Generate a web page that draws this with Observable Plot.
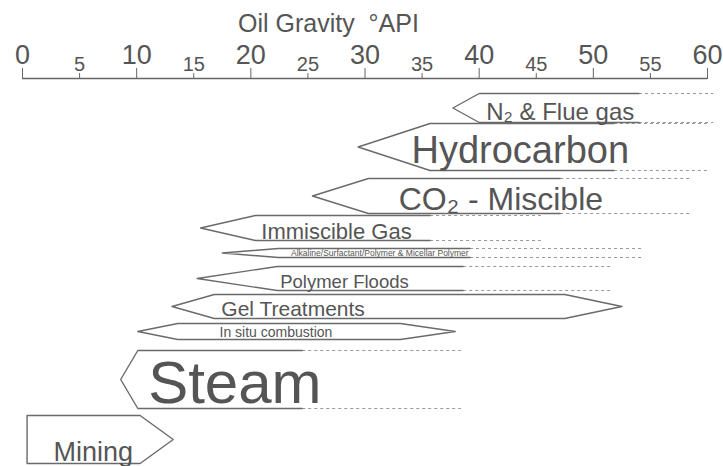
<!DOCTYPE html>
<html><head><meta charset="utf-8">
<script src="https://cdn.jsdelivr.net/npm/d3@7"></script>
<script src="https://cdn.jsdelivr.net/npm/@observablehq/plot@0.6"></script>
<style>html,body{margin:0;padding:0;background:#fff;}</style>
</head><body><div id="chart"></div>
<script>
// ---- data (oil gravity, °API) ----
const methods = ["N\u2082 & Flue gas", "Hydrocarbon", "CO\u2082 - Miscible", "Immiscible Gas",
  "Alkaline/Surfactant/Polymer & Micellar Polymer", "Polymer Floods", "Gel Treatments",
  "In situ combustion", "Steam", "Mining"];
const shapeKind = ["open", "open", "open", "open", "open", "open", "lens", "lens", "open", "right"];
const tipAPI   = [37.7, 29.4, 25.4, 15.6, 17.5, 15.3, 13.1, 10.1, 8.6, 13.2];
const fullAPI  = [40.0, 35.7, 30.3, 20.4, 22.4, 22.3, 16.8, 13.6, 10.1, 10.3];
const solidAPI = [54.0, 51.8, 47.1, 35.7, 39.2, 38.6, 47.5, 33.1, 24.5, 0.4];
const dashAPI  = [60.5, 60.2, 58.5, 45.4, 54.4, 51.5, null, null, 38.4, null];
const pointAPI = [null, null, null, null, null, null, 52.5, 37.9, null, null];
const majorTicks = [0, 10, 20, 30, 40, 50, 60];
const minorTicks = [5, 15, 25, 35, 45, 55];
const axisTitle = "Oil Gravity\u00a0\u00a0°API";

// ---- layout (vertical rows, label placement, sizes) ----
const rowTop    = [93, 123, 178, 215, 248, 266, 294, 323, 350, 415];
const rowBottom = [122, 170, 213, 240, 257, 290, 318, 339, 408, 463];
const labelX    = [47.1, 43.6, 41.9, 27.5, 31.3, 28.2, 23.7, 22.2, 18.6, 6.2];
const labelBase = [119, 162, 209, 238, 255.5, 287, 315, 336, 402, 460];
const labelSize = [24, 38, 32, 22, 8.5, 18.5, 21, 14, 60, 27];
const axisY = 78;

const solid = [], dashed = [];
methods.forEach((m, i) => {
  const t = rowTop[i], b = rowBottom[i], c = (t + b) / 2;
  const P = (x, y) => solid.push({id: i, x, y});
  if (shapeKind[i] === "open") {
    P(solidAPI[i], t); P(fullAPI[i], t); P(tipAPI[i], c); P(fullAPI[i], b); P(solidAPI[i], b);
    dashed.push({x1: solidAPI[i], x2: dashAPI[i], y: t});
    dashed.push({x1: solidAPI[i], x2: dashAPI[i], y: b});
  } else if (shapeKind[i] === "lens") {
    P(tipAPI[i], c); P(fullAPI[i], t); P(solidAPI[i], t); P(pointAPI[i], c);
    P(solidAPI[i], b); P(fullAPI[i], b); P(tipAPI[i], c);
  } else {
    P(solidAPI[i], t); P(fullAPI[i], t); P(tipAPI[i], c); P(fullAPI[i], b); P(solidAPI[i], b); P(solidAPI[i], t);
  }
});
const labels = methods.map((m, i) => ({text: m, x: labelX[i], y: labelBase[i], size: labelSize[i]}));

const chart = Plot.plot({
  width: 723, height: 466,
  marginTop: axisY, marginBottom: 0, marginLeft: 22, marginRight: 16,
  x: {domain: [0, 60]},
  y: {domain: [axisY, 466], reverse: true, axis: null},
  style: {fontFamily: "'Liberation Sans', Arial, sans-serif", color: "#555", background: "#fff", overflow: "visible"},
  marks: [
    Plot.ruleY([axisY], {x1: 0, x2: 60, stroke: "#666", strokeWidth: 1.3}),
    Plot.axisX({anchor: "top", ticks: majorTicks, tickSize: 11, tickPadding: 4, fontSize: 27, label: null, stroke: "#666", fill: "#555"}),
    Plot.axisX({anchor: "top", ticks: minorTicks, tickSize: 6, tickPadding: 2, fontSize: 20, label: null, stroke: "#666", fill: "#555"}),
    Plot.text([axisTitle], {x: 26.8, frameAnchor: "top", dy: -47, lineAnchor: "bottom", fontSize: 25, fill: "#555"}),
    Plot.link(dashed, {x1: "x1", x2: "x2", y1: "y", y2: "y", stroke: "#999", strokeWidth: 1.2, strokeDasharray: "3,3"}),
    Plot.line(solid, {x: "x", y: "y", z: "id", stroke: "#6a6a6a", strokeWidth: 1.4, curve: "linear"}),
    Plot.text(labels, {x: "x", y: "y", text: "text", fontSize: "size", lineAnchor: "bottom", textAnchor: "middle", fill: "#555"})
  ]
});
document.getElementById("chart").append(chart);
</script>
</body></html>
